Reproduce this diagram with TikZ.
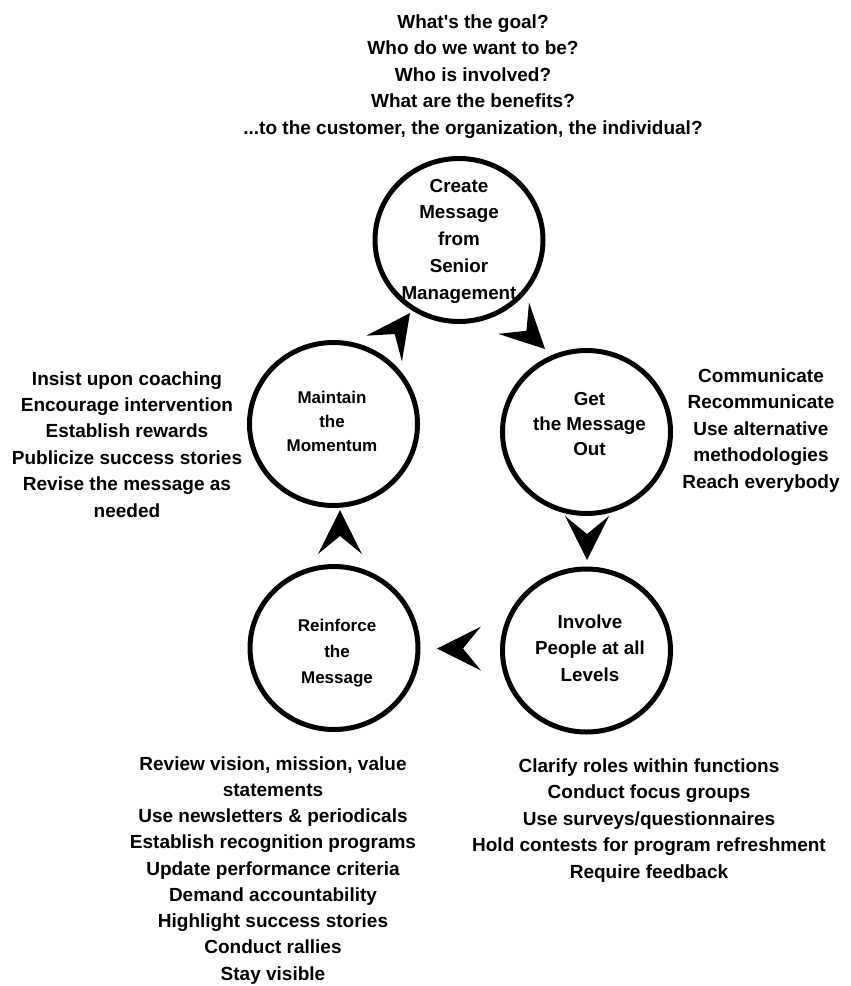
\documentclass[tikz,border=0pt]{standalone}
\usepackage{fontspec}
\setmainfont{Liberation Sans}[Ligatures=TeXOff]
\usetikzlibrary{shapes.geometric}
\tikzset{
  stage/.style={ellipse, draw, line width=5pt, minimum width=168pt, minimum height=163pt, inner sep=0pt},
  bigtxt/.style={align=center, anchor=base, inner sep=0pt, font=\bfseries\fontsize{18.8}{26.75}\selectfont},
  smalltxt/.style={align=center, anchor=base, inner sep=0pt, font=\bfseries\fontsize{17}{24}\selectfont},
  notetxt/.style={align=center, anchor=base, inner sep=0pt, font=\bfseries\fontsize{19}{26.4}\selectfont},
  tipshape/.pic={\fill (0pt,0pt) -- (-44pt,22pt) -- (-26pt,0pt) -- (-44pt,-22pt) -- cycle;}
}
\begin{document}
\begin{tikzpicture}[x=1pt,y=-1pt]
\useasboundingbox (0,0) rectangle (851,986);

% stages
\node[stage] (create) at (459,240) {};
\node[stage] (maint)  at (333.5,424) {};
\node[stage] (get)    at (586.5,432) {};
\node[stage] (invol)  at (586.5,650.5) {};
\node[stage] (reinf)  at (334,648) {};

% stage labels (anchor base = baseline of last line)
\node[bigtxt] (createtxt) at (459,299) {Create\\Message\\from\\Senior\\Management};
\node[smalltxt] (mainttxt) at (332,451) {Maintain\\the\\Momentum};
\node[bigtxt, font=\bfseries\fontsize{18.8}{25}\selectfont] (gettxt) at (589.5,455) {Get\\the Message\\Out};
\node[bigtxt, font=\bfseries\fontsize{18.8}{26.5}\selectfont] (involtxt) at (590,681) {Involve\\People at all\\Levels};
\node[smalltxt, font=\bfseries\fontsize{17}{26}\selectfont] (reinftxt) at (337,683) {Reinforce\\the\\Message};

% arrowheads between stages
\pic[rotate=-44.5] at (545,349) {tipshape};
\pic[rotate=-90] at (587,560) {tipshape};
\pic[rotate=180] at (437,648.5) {tipshape};
\pic[rotate=90] at (340,510) {tipshape};
\pic[rotate=54] at (410,313) {tipshape};

% notes
\node[notetxt] (topnote) at (473,134) {What's the goal?\\Who do we want to be?\\Who is involved?\\What are the benefits?\\...to the customer, the organization, the individual?};
\node[notetxt] (leftnote) at (127,517) {Insist upon coaching\\Encourage intervention\\Establish rewards\\Publicize success stories\\Revise the message as\\needed};
\node[notetxt] (rightnote) at (761,488) {Communicate\\Recommunicate\\Use alternative\\methodologies\\Reach everybody};
\node[notetxt, font=\bfseries\fontsize{19}{26.25}\selectfont] (blnote) at (273,980) {Review vision, mission, value\\statements\\Use newsletters \& periodicals\\Establish recognition programs\\Update performance criteria\\Demand accountability\\Highlight success stories\\Conduct rallies\\Stay visible};
\node[notetxt] (brnote) at (649,878) {Clarify roles within functions\\Conduct focus groups\\Use surveys/questionnaires\\Hold contests for program refreshment\\Require feedback};
\end{tikzpicture}
\end{document}
